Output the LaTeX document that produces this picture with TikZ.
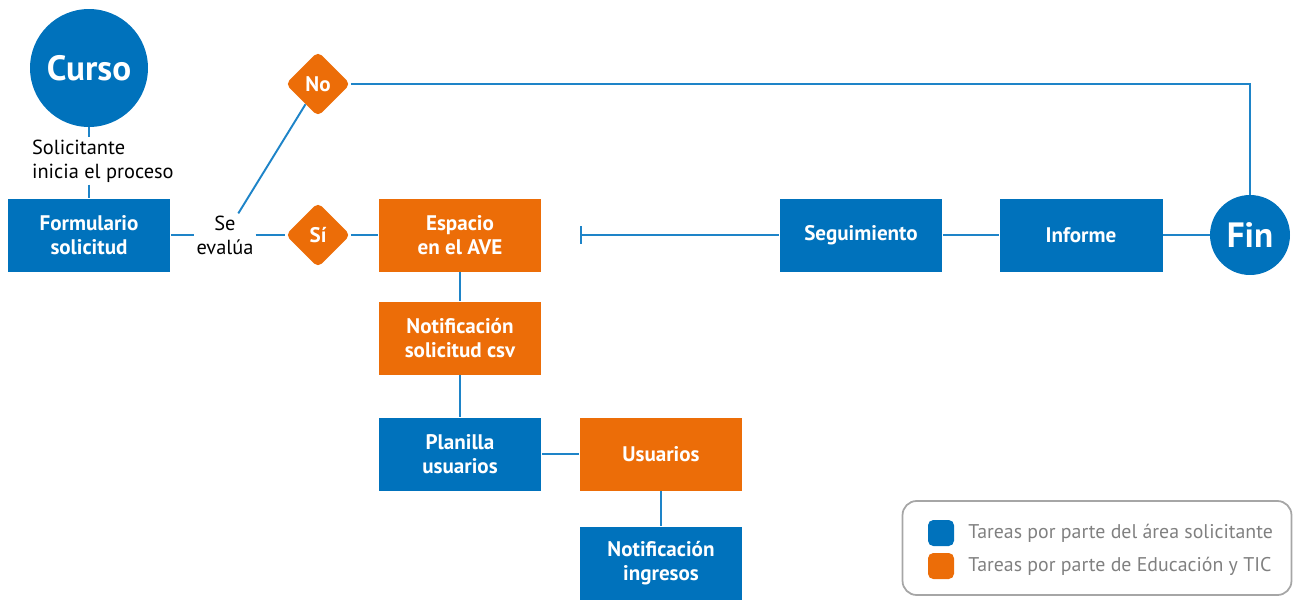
\documentclass[tikz,border=0pt]{standalone}
\usepackage{fontspec}
\setmainfont{PT Sans}
\usetikzlibrary{shapes.geometric,arrows.meta}
\definecolor{azul}{RGB}{0,114,188}
\definecolor{naranja}{RGB}{236,109,8}
\definecolor{linea}{RGB}{30,132,200}
\definecolor{gris}{RGB}{128,128,128}
\begin{document}
\begin{tikzpicture}[x=0.02cm, y=-0.02cm,
    caja/.style={minimum width=3.26cm, minimum height=1.46cm, text=white, align=center, inner sep=0pt, font=\bfseries\fontsize{12}{13.8}\selectfont},
    tareaA/.style={caja, fill=azul},
    tareaB/.style={caja, fill=naranja},
    rombo/.style={diamond, fill=naranja, text=white, minimum size=1.3cm, inner sep=0pt, rounded corners=3pt, font=\bfseries\fontsize{12}{13.8}\selectfont},
    circulo/.style={circle, fill=azul, text=white, inner sep=0pt, font=\bfseries\fontsize{20}{23}\selectfont},
    texto/.style={inner sep=1pt, font=\fontsize{11.6}{13.8}\selectfont},
    enlace/.style={linea, line width=1.1pt}]
    \useasboundingbox (0,0) rectangle (1294,599);
    % inicio
    \node[circulo, minimum size=2.36cm] (curso) at (89,68) {Curso};
    \node[texto, align=left, anchor=west] (inicio) at (30,161) {Solicitante\\inicia el proceso};
    \node[tareaA] (form) at (89,235) {Formulario\\solicitud};
    \node[texto, align=center] (eval) at (225,235) {Se\\evalúa};
    \node[rombo] (si) at (318,235) {Sí};
    \node[rombo] (no) at (318,84) {No};
    % tareas
    \node[tareaB] (espacio) at (460,235) {Espacio\\en el AVE};
    \node[tareaB] (notcsv) at (460,338) {Notificación\\solicitud csv};
    \node[tareaA] (planilla) at (460,454) {Planilla\\usuarios};
    \node[tareaB] (usuarios) at (661,454) {Usuarios};
    \node[tareaA] (noting) at (661,563) {Notificación\\ingresos};
    \coordinate (tope) at (580,235);
    \node[tareaA] (seguim) at (861,235) {Seguimiento};
    \node[tareaA] (informe) at (1081,235) {Informe};
    \node[circulo, minimum size=1.6cm] (fin) at (1250,235) {Fin};
    % conexiones
    \draw[enlace] (curso) -- (curso |- inicio.north);
    \draw[enlace] (curso |- inicio.south) -- (form);
    \draw[enlace] (form) -- (eval);
    \draw[enlace] (eval) -- (si);
    \draw[enlace] (eval) -- (no);
    \draw[enlace] (no) -| (fin);
    \draw[enlace] (si) -- (espacio);
    \draw[enlace] (espacio) -- (notcsv);
    \draw[enlace] (notcsv) -- (planilla);
    \draw[enlace] (planilla) -- (usuarios);
    \draw[enlace] (usuarios) -- (noting);
    \draw[enlace, {Bar[width=10pt]}-] (tope) -- (seguim);
    \draw[enlace] (seguim) -- (informe);
    \draw[enlace] (informe) -- (fin);
    % leyenda
    \node[draw=gris!70, line width=1pt, rounded corners=8pt, minimum width=7.78cm, minimum height=1.88cm] (leyenda) at (1097,548) {};
    \node[fill=azul, rounded corners=3pt, minimum size=0.52cm, inner sep=0pt] (colA) at (941,533) {};
    \node[fill=naranja, rounded corners=3pt, minimum size=0.52cm, inner sep=0pt] (colB) at (941,566) {};
    \node[anchor=west, text=gris, inner sep=0pt, font=\fontsize{11.3}{13.6}\selectfont] (txtA) at (968,533) {Tareas por parte del área solicitante};
    \node[anchor=west, text=gris, inner sep=0pt, font=\fontsize{11.3}{13.6}\selectfont] (txtB) at (968,566) {Tareas por parte de Educación y TIC};
\end{tikzpicture}
\end{document}
